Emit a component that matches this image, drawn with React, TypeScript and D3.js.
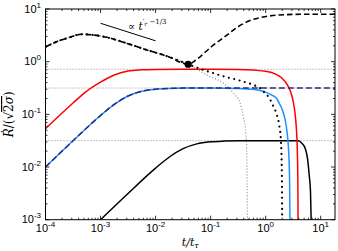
import React from "react";
import * as d3 from "d3";

type Pt = [number, number];

// values (t/t_tau, Rdot/sqrt(2 sigma))
const redCurve: Pt[] = [
  [1e-4, 0.0533], [3.16e-4, 0.164], [5.62e-4, 0.277], [1e-3, 0.41], [1.78e-3, 0.56],
  [3.16e-3, 0.662], [5.62e-3, 0.7], [0.01, 0.714], [0.0316, 0.72], [0.1, 0.72],
  [0.316, 0.711], [1, 0.658], [1.585, 0.569], [1.995, 0.483], [2.512, 0.356],
  [2.818, 0.274], [3.162, 0.177], [3.467, 0.0923], [3.631, 0.0504], [3.758, 0.0215],
  [3.846, 0.0054], [3.89, 0.0006],
];

const blueCurve: Pt[] = [
  [1e-4, 0.01], [3.16e-4, 0.0315], [1e-3, 0.0953], [1.78e-3, 0.155], [3.16e-3, 0.223],
  [5.62e-3, 0.275], [0.01, 0.301], [0.0178, 0.311], [0.0316, 0.315], [0.1, 0.316],
  [0.316, 0.311], [0.631, 0.295], [1, 0.264], [1.259, 0.235], [1.585, 0.2],
  [1.778, 0.16], [1.995, 0.124], [2.239, 0.082], [2.455, 0.045], [2.63, 0.0178],
  [2.723, 0.0056], [2.786, 0.0005],
];

const navyCurve: Pt[] = [
  [1e-4, 0.01], [3.16e-4, 0.0315], [1e-3, 0.0953], [1.78e-3, 0.155], [3.16e-3, 0.223],
  [5.62e-3, 0.275], [0.01, 0.301], [0.0178, 0.311], [0.0316, 0.315], [0.1, 0.316],
  [1, 0.316], [18.2, 0.316],
];

const blackCurve: Pt[] = [
  [1e-3, 1e-3], [3.16e-3, 0.00315], [0.01, 0.00953], [0.0178, 0.0155], [0.0316, 0.0223],
  [0.0562, 0.0275], [0.1, 0.0301], [0.178, 0.0311], [0.316, 0.0315], [1, 0.0316],
  [3.94, 0.0316], [4.55, 0.0283], [5.22, 0.0228], [5.75, 0.0147], [6.18, 0.00708],
  [6.53, 0.00341], [6.71, 0.001],
];

// common early branch of the dashed / dotted / grey curves
const sharedBranch: Pt[] = [
  [1e-4, 1.9], [1.6e-4, 2.4], [2.43e-4, 2.78], [4.55e-4, 3.31], [7.41e-4, 3.21],
  [1.3e-3, 2.9], [2.99e-3, 2.23], [6.92e-3, 1.67], [0.0171, 1.245], [0.039, 0.893],
];

const dashedBranch: Pt[] = [
  [0.0593, 1.16], [0.1035, 1.93], [0.181, 2.98], [0.316, 4.61], [0.552, 6.18],
  [0.966, 7.14], [1.69, 7.69], [4.48, 7.93], [18.2, 7.93],
];

const dottedBranch: Pt[] = [
  [0.074, 0.697], [0.1125, 0.603], [0.197, 0.506], [0.344, 0.436], [0.6, 0.361],
  [0.794, 0.313], [0.912, 0.27], [1.172, 0.202], [1.387, 0.14], [1.6, 0.0975],
  [1.78, 0.0585], [1.89, 0.0327], [1.97, 0.0077], [1.995, 0.001],
];

const greyBranch: Pt[] = [
  [0.0561, 0.718], [0.098, 0.519], [0.171, 0.389], [0.26, 0.251], [0.344, 0.163],
  [0.394, 0.0904], [0.437, 0.0438], [0.455, 0.0157], [0.467, 0.001],
];

const turnPoint: Pt = [0.039, 0.893];
const slopeGuide: Pt[] = [[1e-3, 5.36], [1e-2, 2.49]];
const levels = [0.72, 0.316, 0.0316];

const xDecades = [-4, -3, -2, -1, 0, 1];
const yDecades = [-3, -2, -1, 0, 1];

const W = 338;
const H = 251;
const margin = { top: 9, right: 3, bottom: 31.3, left: 45.5 };

const App = () => {
  const x = d3.scaleLog().domain([1e-4, 18.2]).range([margin.left, W - margin.right]);
  const y = d3.scaleLog().domain([1e-3, 10]).range([H - margin.bottom, margin.top]);
  const x0 = margin.left;
  const x1 = W - margin.right;
  const y0 = H - margin.bottom;
  const y1 = margin.top;

  const line = d3
    .line<Pt>()
    .x((d) => x(d[0]))
    .y((d) => y(d[1]))
    .curve(d3.curveMonotoneX);

  const minors = (decades: number[], lo: number, hi: number) => {
    const out: number[] = [];
    decades.forEach((p) => {
      for (let k = 2; k < 10; k++) {
        const v = k * Math.pow(10, p);
        if (v > lo && v < hi) out.push(v);
      }
    });
    return out;
  };
  const xMinor = minors(xDecades, 1e-4, 18.2);
  const yMinor = minors(yDecades.slice(0, 4), 1e-3, 10);

  const tickFont = { fontFamily: "Liberation Sans, Arial, sans-serif", fontSize: 11 };

  return (
    <div style={{ position: "fixed", left: 0, top: 0 }}>
      <svg width={W} height={H} style={{ display: "block", background: "#fff" }}>
        <defs>
          <clipPath id="plot">
            <rect x={x0} y={y1} width={x1 - x0} height={y0 - y1} />
          </clipPath>
        </defs>

        <g clipPath="url(#plot)" fill="none">
          {levels.map((v) => (
            <line key={v} x1={x0} x2={x1} y1={y(v)} y2={y(v)} stroke="#8a8a8a" strokeWidth={1} strokeDasharray="1 2" />
          ))}
          <path d={line([...sharedBranch, ...greyBranch]) ?? ""} stroke="#8a8a8a" strokeWidth={1.2} strokeDasharray="1 2" />
          <path d={line(blackCurve) ?? ""} stroke="#000" strokeWidth={1.5} />
          <path d={line(redCurve) ?? ""} stroke="#ff0000" strokeWidth={1.5} />
          <path d={line(blueCurve) ?? ""} stroke="#1e90ff" strokeWidth={1.5} />
          <path d={line(navyCurve) ?? ""} stroke="#2b2b7e" strokeWidth={1.5} strokeDasharray="6 3" />
          <path d={line([...sharedBranch, ...dashedBranch]) ?? ""} stroke="#000" strokeWidth={1.6} strokeDasharray="5.5 3" />
          <path d={line([...sharedBranch, ...dottedBranch]) ?? ""} stroke="#000" strokeWidth={2.2} strokeDasharray="0 5.5" strokeLinecap="round" />
          <path d={line(slopeGuide) ?? ""} stroke="#000" strokeWidth={1} />
          <circle cx={x(turnPoint[0])} cy={y(turnPoint[1])} r={3.6} fill="#000" />
        </g>

        {/* frame */}
        <rect x={x0} y={y1} width={x1 - x0} height={y0 - y1} fill="none" stroke="#000" strokeWidth={1} />

        {/* ticks, inward on all sides */}
        <g stroke="#000" strokeWidth={0.8}>
          {xDecades.map((p) => {
            const px = x(Math.pow(10, p));
            return (
              <g key={"xM" + p}>
                <line x1={px} x2={px} y1={y0} y2={y0 - 4} />
                <line x1={px} x2={px} y1={y1} y2={y1 + 4} />
              </g>
            );
          })}
          {xMinor.map((v) => (
            <g key={"xm" + v}>
              <line x1={x(v)} x2={x(v)} y1={y0} y2={y0 - 2} />
              <line x1={x(v)} x2={x(v)} y1={y1} y2={y1 + 2} />
            </g>
          ))}
          {yDecades.map((p) => {
            const py = y(Math.pow(10, p));
            return (
              <g key={"yM" + p}>
                <line x1={x0} x2={x0 + 4} y1={py} y2={py} />
                <line x1={x1} x2={x1 - 4} y1={py} y2={py} />
              </g>
            );
          })}
          {yMinor.map((v) => (
            <g key={"ym" + v}>
              <line x1={x0} x2={x0 + 2} y1={y(v)} y2={y(v)} />
              <line x1={x1} x2={x1 - 2} y1={y(v)} y2={y(v)} />
            </g>
          ))}
        </g>

        {/* tick labels */}
        {xDecades.map((p) => (
          <text key={"xl" + p} x={x(Math.pow(10, p))} y={232} textAnchor="middle" {...tickFont}>
            10
            <tspan dy={-5} fontSize={8}>{p < 0 ? "-" + -p : p}</tspan>
          </text>
        ))}
        {yDecades.map((p) => (
          <text key={"yl" + p} x={41} y={y(Math.pow(10, p)) + 3.5} textAnchor="end" {...tickFont}>
            10
            <tspan dy={-5} fontSize={8}>{p < 0 ? "-" + -p : p}</tspan>
          </text>
        ))}

        {/* annotation */}
        <text x={128} y={29.5} fontFamily="DejaVu Serif, serif" fontSize={10.5}>
          ∝ <tspan fontStyle="italic">t</tspan>
          <tspan dy={-5.5} fontSize={7}>′</tspan>
          <tspan dy={1.5} fontSize={6} fontStyle="italic">r</tspan>
          <tspan dy={-1.5} fontSize={7}> −1/3</tspan>
        </text>

        {/* axis titles */}
        <text x={(x0 + x1) / 2} y={246} textAnchor="middle" fontFamily="DejaVu Serif, serif" fontSize={11} fontStyle="italic">
          t/t<tspan dy={2} fontSize={8}>τ</tspan>
        </text>
        <text
          transform={`translate(13,${(y0 + y1) / 2}) rotate(-90)`}
          textAnchor="middle"
          fontFamily="DejaVu Serif, serif"
          fontSize={12}
        >
          <tspan fontStyle="italic">{"R\u0307"}</tspan>/(√<tspan style={{ textDecoration: "overline" }}>2<tspan fontStyle="italic">σ</tspan></tspan>)
        </text>
      </svg>
    </div>
  );
};

export default App;
